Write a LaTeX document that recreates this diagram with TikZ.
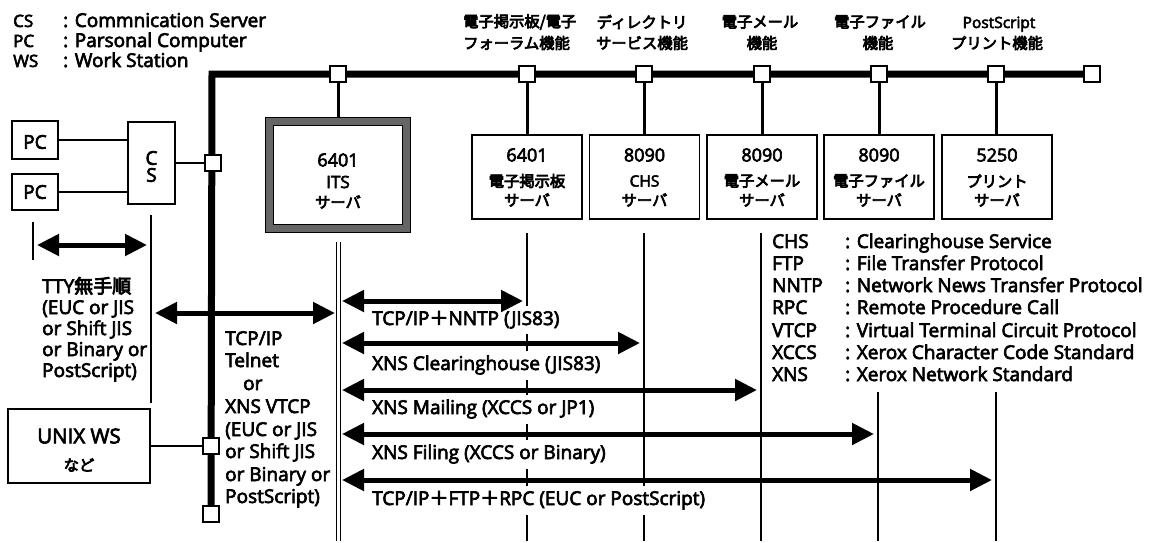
\documentclass[tikz,border=0pt]{standalone}
\usepackage{fontspec}
\setmainfont[FakeBold=3.5]{Open Sans}
\newfontfamily\jp[FakeBold=4.5]{Noto Sans CJK JP}
\usetikzlibrary{arrows.meta,backgrounds}
\newcommand\fwp{{\jp ＋}}
\tikzset{
  lat/.style={font=\fontsize{19}{22}\selectfont, inner sep=0pt},
  sml/.style={font=\fontsize{17}{20}\selectfont, inner sep=0pt},
  tiny/.style={font=\fontsize{15.5}{18}\selectfont, inner sep=0pt},
  num/.style={font=\fontsize{18}{20}\selectfont, inner sep=0pt},
  jpt/.style={font=\jp\fontsize{15.3}{18}\selectfont, inner sep=0pt},
  srv/.style={draw, line width=1.6pt, minimum width=110pt, minimum height=84pt, inner sep=0pt},
  dev/.style={draw, line width=1.6pt, inner sep=0pt},
  bbox/.style={draw, fill=white, line width=1.5pt, minimum size=16pt, inner sep=0pt},
  bus/.style={line width=7pt},
  drop/.style={line width=3pt},
  vthin/.style={line width=1.4pt},
  link/.style={line width=2.2pt},
  dblarrow/.style={line width=5pt, {Triangle[length=22pt,width=21pt]}-{Triangle[length=22pt,width=21pt]}},
  lab/.style={lat, fill=white, inner xsep=2pt, inner ysep=5pt},
}
\begin{document}
\begin{tikzpicture}[x=1pt,y=-1pt]
\useasboundingbox (0,0) rectangle (1150,542);

% ---- legend top left
\node[sml,anchor=base west] (lCS) at (13,27) {CS};
\node[lat,anchor=base west] (lCSt) at (63,27) {: Commnication Server};
\node[sml,anchor=base west] (lPC) at (13,47) {PC};
\node[lat,anchor=base west] (lPCt) at (63,47) {: Parsonal Computer};
\node[sml,anchor=base west] (lWS) at (13,67) {WS};
\node[lat,anchor=base west] (lWSt) at (63,67) {: Work Station};

% ---- top function labels
\node[jpt,anchor=west] (f1a) at (463,22) {電子掲示板/電子};
\node[jpt,anchor=west] (f1b) at (463,43) {フォーラム機能};
\node[jpt] (f2a) at (642,22) {ディレクトリ};
\node[jpt] (f2b) at (642,43) {サービス機能};
\node[jpt] (f3a) at (760,22) {電子メール};
\node[jpt] (f3b) at (762,43) {機能};
\node[jpt] (f4a) at (880,22) {電子ファイル};
\node[jpt] (f4b) at (878,43) {機能};
\node[tiny,anchor=base] (f5a) at (999,28) {PostScript};
\node[jpt] (f5b) at (997,43) {プリント機能};

% ---- bus boxes
\node[bbox] (bx0) at (338,74) {};
\node[bbox] (bx1) at (527,74) {};
\node[bbox] (bx2) at (644,74) {};
\node[bbox] (bx3) at (762,74) {};
\node[bbox] (bx4) at (879,74) {};
\node[bbox] (bx5) at (996,74) {};
\node[bbox] (bxe) at (1092,74) {};
\node[bbox] (bcs) at (213,163) {};
\node[bbox] (bun) at (211,446) {};
\node[bbox] (bbt) at (211,514) {};
\coordinate (corner) at (212,74);

% ---- ITS server
\node[draw, line width=1.2pt, fill=black!60, minimum width=145pt, minimum height=115pt, inner sep=0pt] (itso) at (338,175) {};
\node[draw, line width=1.2pt, fill=white, minimum width=129pt, minimum height=99pt, inner sep=0pt] (itsi) at (338,175) {};
\node[num] (its1) at (338,160) {6401};
\node[sml] (its2) at (338,182) {ITS};
\node[jpt] (its3) at (338,202) {サーバ};

% ---- servers
\node[srv] (s1) at (527,177) {};
\node[srv] (s2) at (644.5,177) {};
\node[srv] (s3) at (762,177) {};
\node[srv] (s4) at (879,177) {};
\node[srv] (s5) at (997,177) {};
\node[num] (s1a) at (527,155) {6401};
\node[jpt] (s1b) at (527,181) {電子掲示板};
\node[jpt] (s1c) at (527,200) {サーバ};
\node[num] (s2a) at (644.5,155) {8090};
\node[tiny] (s2b) at (644.5,181) {CHS};
\node[jpt] (s2c) at (644.5,200) {サーバ};
\node[num] (s3a) at (762,155) {8090};
\node[jpt] (s3b) at (762,181) {電子メール};
\node[jpt] (s3c) at (762,200) {サーバ};
\node[num] (s4a) at (879,155) {8090};
\node[jpt] (s4b) at (879,181) {電子ファイル};
\node[jpt] (s4c) at (879,200) {サーバ};
\node[num] (s5a) at (997,155) {5250};
\node[jpt] (s5b) at (997,181) {プリント};
\node[jpt] (s5c) at (997,200) {サーバ};

% ---- PCs, CS, UNIX
\node[dev, minimum width=46pt, minimum height=38pt] (pc1) at (35,140) {};
\node[lat] (pc1t) at (35,142) {PC};
\node[dev, minimum width=46pt, minimum height=36pt] (pc2) at (35,192) {};
\node[lat] (pc2t) at (35,192) {PC};
\node[dev, minimum width=47pt, minimum height=82pt] (cs) at (151.5,163) {};
\node[lat] (csC) at (151.5,158) {C};
\node[lat] (csS) at (151.5,175) {S};
\node[dev, minimum width=142pt, minimum height=74pt] (unix) at (79,446) {};
\node[font=\fontsize{20.5}{22}\selectfont, inner sep=0pt] (unixa) at (79,436) {UNIX WS};
\node[jpt] (unixb) at (79,465) {など};

% ---- right legend
\foreach \k/\t/\y in {CHS/Clearinghouse Service/248, FTP/File Transfer Protocol/270, NNTP/Network News Transfer Protocol/292, RPC/Remote Procedure Call/314, VTCP/Virtual Terminal Circuit Protocol/337, XCCS/Xerox Character Code Standard/359, XNS/Xerox Network Standard/381}{
  \node[lat,anchor=base west] (r\k) at (772,\y) {\k};
  \node[lat,anchor=base west] (r\k t) at (845,\y) {: \t};
}

% ---- TTY text
\node[lat,anchor=base west] (tty1) at (42,293) {TTY{\jp 無手順}};
\node[lat,anchor=base west] (tty2) at (42,314) {(EUC or JIS};
\node[lat,anchor=base west] (tty3) at (42,335) {or Shift JIS};
\node[lat,anchor=base west] (tty4) at (42,356) {or Binary or};
\node[lat,anchor=base west] (tty5) at (42,377) {PostScript)};

% ---- TCP/IP text
\node[lat,anchor=base west] (tc1) at (225,345) {TCP/IP};
\node[lat,anchor=base west] (tc2) at (225,367) {Telnet};
\node[lat,anchor=base west] (tc3) at (243,390) {or};
\node[lat,anchor=base west] (tc4) at (225,413) {XNS VTCP};
\node[lat,anchor=base west] (tc5) at (225,436) {(EUC or JIS};
\node[lat,anchor=base west] (tc6) at (225,458) {or Shift JIS};
\node[lat,anchor=base west] (tc7) at (225,481) {or Binary or};
\node[lat,anchor=base west] (tc8) at (225,503) {PostScript)};

% ---- vertical lines coordinates
\coordinate (itsT) at (338.5,242); \coordinate (itsB) at (338.5,541);
\coordinate (v1t) at (527,233); \coordinate (v1b) at (527,541);
\coordinate (v2t) at (644,233); \coordinate (v2b) at (644,541);
\coordinate (v3t) at (761,233); \coordinate (v3b) at (761,541);
\coordinate (v4t) at (878,392); \coordinate (v4b) at (878,541);
\coordinate (v5t) at (996,392); \coordinate (v5b) at (996,541);
\coordinate (t1t) at (33,222); \coordinate (t1b) at (33,260);
\coordinate (t2t) at (151,215); \coordinate (t2b) at (151,403);

\begin{scope}[on background layer]
  \draw[bus, line join=miter] (bbt) -- (corner) -- (bxe);
  \draw[drop] (bx0) -- (itso);
  \draw[drop] (bx1) -- (s1);
  \draw[drop] (bx2.south) -- (bx2.south |- s2.north);
  \draw[drop] (bx3) -- (s3);
  \draw[drop] (bx4) -- (s4);
  \draw[drop] (bx5.south) -- (bx5.south |- s5.north);
  \draw[link] (pc1.east) -- (pc1.east -| cs.west);
  \draw[link] (pc2.east) -- (pc2.east -| cs.west);
  \draw[link] (cs) -- (bcs);
  \draw[link] (unix) -- (bun);
  \draw[vthin] (v1t) -- (v1b);
  \draw[vthin] (v2t) -- (v2b);
  \draw[vthin] (v3t) -- (v3b);
  \draw[vthin] (v4t) -- (v4b);
  \draw[vthin] (v5t) -- (v5b);
  \draw[vthin] (t1t) -- (t1b);
  \draw[vthin] (t2t) -- (t2b);
  \draw[line width=1.2pt, double, double distance=3.2pt] (itsT) -- (itsB);
\end{scope}

% ---- arrow labels
\node[lab,anchor=base west] (al1) at (370,325) {TCP/IP\fwp NNTP (JIS83)};
\node[lab,anchor=base west] (al2) at (370,370) {XNS Clearinghouse (JIS83)};
\node[lab,anchor=base west] (al3) at (370,414) {XNS Mailing (XCCS or JP1)};
\node[lab,anchor=base west] (al4) at (370,459) {XNS Filing (XCCS or Binary)};
\node[lab,anchor=base west] (al5) at (370,505) {TCP/IP\fwp FTP\fwp RPC (EUC or PostScript)};

% ---- arrows
\coordinate (ta1) at (37,245); \coordinate (ta2) at (147,245);
\draw[dblarrow] (ta1) -- (ta2);
\coordinate (la1) at (155,313); \coordinate (la2) at (335,313);
\draw[dblarrow] (la1) -- (la2);
\coordinate (a1l) at (342,301); \coordinate (a1r) at (523,301);
\coordinate (a2l) at (342,343); \coordinate (a2r) at (640,343);
\coordinate (a3l) at (342,390); \coordinate (a3r) at (757,390);
\coordinate (a4l) at (342,434); \coordinate (a4r) at (874,434);
\coordinate (a5l) at (342,480); \coordinate (a5r) at (992,480);
\draw[dblarrow] (a1l) -- (a1r);
\draw[dblarrow] (a2l) -- (a2r);
\draw[dblarrow] (a3l) -- (a3r);
\draw[dblarrow] (a4l) -- (a4r);
\draw[dblarrow] (a5l) -- (a5r);
\end{tikzpicture}
\end{document}
